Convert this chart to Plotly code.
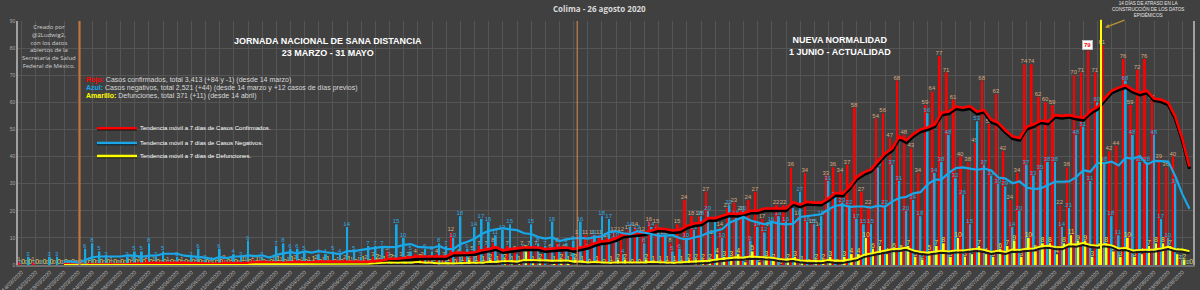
import pandas as pd
import plotly.graph_objects as go

fechas = pd.date_range("2020-03-14", periods=166).strftime("%d/%m/%Y").tolist()

confirmados = [
    1, 0, 1, 0, 0, 0, 0, 0, 0, 0,
    1, 0, 0, 1, 0, 0, 1, 1, 2, 1,
    0, 1, 0, 1, 0, 1, 0, 0, 1, 2,
    1, 0, 1, 2, 1, 0, 1, 1, 1, 2,
    1, 1, 2, 1, 0, 1, 2, 1, 1, 2,
    3, 2, 5, 2, 3, 3, 4, 3, 2, 4,
    3, 12, 4, 3, 5, 7, 7, 8, 4, 7,
    5, 7, 7, 7, 4, 6, 8, 6, 3, 11,
    11, 11, 11, 10, 12, 12, 13, 14, 12, 16,
    15, 11, 8, 15, 24, 18, 18, 27, 11, 14,
    21, 23, 20, 24, 27, 17, 14, 22, 22, 36,
    18, 34, 15, 14, 33, 36, 34, 37, 58, 27,
    22, 54, 56, 47, 68, 48, 43, 34, 59, 64,
    77, 71, 61, 40, 38, 45, 68, 52, 63, 42,
    24, 34, 74, 74, 62, 60, 59, 22, 36, 70,
    71, 79, 71, 81, 42, 44, 76, 59, 72, 76,
    61, 39, 36, 40, 2, 0,
]

negativos = [
    0, 3, 0, 0, 3, 3, 0, 0, 0, 6,
    8, 5, 3, 0, 0, 3, 5, 5, 8, 3,
    5, 0, 3, 0, 3, 6, 2, 1, 6, 0,
    4, 3, 9, 0, 3, 0, 7, 8, 6, 6,
    5, 0, 4, 4, 5, 4, 14, 5, 3, 7,
    7, 7, 3, 15, 10, 5, 0, 6, 5, 8,
    7, 10, 18, 6, 14, 17, 16, 11, 13, 15,
    4, 6, 15, 8, 7, 16, 6, 8, 9, 16,
    6, 11, 18, 17, 10, 4, 14, 13, 8, 14,
    12, 11, 5, 6, 10, 13, 18, 20, 16, 10,
    22, 18, 20, 9, 14, 12, 16, 18, 16, 21,
    27, 16, 15, 18, 31, 25, 23, 22, 17, 15,
    15, 36, 22, 37, 31, 20, 24, 18, 56, 34,
    38, 48, 32, 26, 15, 53, 37, 33, 30, 29,
    14, 20, 37, 33, 35, 38, 38, 14, 21, 48,
    51, 31, 60, 38, 18, 11, 68, 48, 38, 38,
    48, 17, 10, 30, 2, 0,
]

defunciones = [
    0, 0, 0, 0, 0, 0, 0, 0, 0, 0,
    0, 0, 0, 0, 0, 0, 0, 0, 0, 0,
    0, 0, 0, 0, 0, 0, 0, 0, 0, 0,
    0, 1, 0, 1, 0, 0, 1, 0, 1, 0,
    0, 1, 0, 1, 0, 0, 1, 0, 1, 0,
    2, 1, 2, 0, 1, 0, 2, 0, 1, 0,
    1, 0, 1, 2, 1, 1, 2, 1, 2, 1,
    1, 5, 1, 2, 0, 1, 2, 1, 2, 1,
    0, 1, 0, 1, 2, 2, 0, 0, 2, 1,
    1, 1, 1, 1, 2, 2, 2, 2, 4, 3,
    3, 4, 1, 5, 1, 3, 2, 0, 2, 3,
    1, 0, 2, 2, 3, 0, 3, 4, 4, 10,
    6, 7, 4, 6, 5, 7, 3, 2, 5, 7,
    8, 3, 10, 3, 4, 7, 4, 3, 6, 7,
    9, 3, 10, 5, 8, 8, 4, 8, 11, 9,
    9, 3, 6, 8, 5, 3, 10, 3, 4, 7,
    8, 8, 7, 4, 2, 0,
]

dia_recuadro = 151  # bar whose label is shown in a white box


def movil(v):
    s = pd.Series(v, dtype=float).rolling(7).mean()
    return [None if pd.isna(x) else float(x) for x in s]


tend_conf = movil(confirmados)
tend_neg = movil(negativos)
tend_def = movil(defunciones)

txt_conf = [str(v) for v in confirmados]
txt_conf[dia_recuadro] = ""

BG = "#404040"
GRID = "#555555"

fig = go.Figure()
fig.add_trace(go.Bar(x=fechas, y=confirmados, marker_color="#ff0000", marker_line_width=0,
                     text=txt_conf, textposition="outside", constraintext="none", cliponaxis=False,
                     textfont=dict(size=6, color="#d9a77e", family="Liberation Sans")))
fig.add_trace(go.Bar(x=fechas, y=negativos, marker_color="#17a9e6", marker_line_width=0,
                     text=[str(v) for v in negativos], textposition="outside", constraintext="none",
                     cliponaxis=False, textfont=dict(size=6, color="#2ea8e0", family="Liberation Sans")))
fig.add_trace(go.Bar(x=fechas, y=defunciones, marker_color="#ffff00", marker_line_width=0,
                     text=[str(v) for v in defunciones], textposition="outside", constraintext="none",
                     cliponaxis=False, textfont=dict(size=7, color="#e3d64a", family="Liberation Sans")))

# shadows (same data, drawn on a slightly shifted overlay axis)
fig.add_trace(go.Scatter(x=fechas, y=tend_conf, mode="lines", yaxis="y2",
                         line=dict(color="#000000", width=3.2), hoverinfo="skip"))
fig.add_trace(go.Scatter(x=fechas, y=tend_def, mode="lines", yaxis="y2",
                         line=dict(color="#1a1a1a", width=2), hoverinfo="skip"))
# trend lines
fig.add_trace(go.Scatter(x=fechas, y=tend_conf, mode="lines", yaxis="y3",
                         line=dict(color="#ff0000", width=2.6)))
fig.add_trace(go.Scatter(x=fechas, y=tend_neg, mode="lines", yaxis="y3",
                         line=dict(color="#19a7e8", width=2.2)))
fig.add_trace(go.Scatter(x=fechas, y=tend_def, mode="lines", yaxis="y3",
                         line=dict(color="#ffff00", width=1.8)))


def px(x):
    return (x - 18) / 1175.0


def py(y):
    return (265 - y) / 244.0


shapes = [
    dict(type="line", xref="x", yref="paper", x0=8.2, x1=8.2, y0=0, y1=1,
         line=dict(color="#c6743a", width=2)),
    dict(type="line", xref="x", yref="paper", x0=78.5, x1=78.5, y0=0, y1=1,
         line=dict(color="#e08d4f", width=1)),
    dict(type="line", xref="x", yref="paper", x0=152.5, x1=152.5, y0=0, y1=1.005,
         line=dict(color="#ffff00", width=2)),
]
for yy, col in [(128.3, "#ff0000"), (143, "#19a7e8"), (156, "#ffff00")]:
    shapes.append(dict(type="line", xref="paper", yref="paper", x0=px(97), x1=px(137),
                       y0=py(yy + 1.2), y1=py(yy + 1.2), line=dict(color="#111111", width=2)))
    shapes.append(dict(type="line", xref="paper", yref="paper", x0=px(97), x1=px(137),
                       y0=py(yy), y1=py(yy), line=dict(color=col, width=2.6)))


def nota(x, y, text, size, color, family="Liberation Sans", xanchor="center", align="center"):
    return dict(x=px(x), y=py(y), xref="paper", yref="paper", showarrow=False,
                xanchor=xanchor, yanchor="middle", align=align, text=text,
                font=dict(size=size, color=color, family=family))


ann = []
ann.append(nota(599, 8.3, "<b>Colima - 26 agosto 2020</b>", 8, "#d9d9d9", "Open Sans"))
ann.append(nota(49.3, 46.7,
                "Creado por<br>@2Ludwig2,<br>con los datos<br>abiertos de la<br>Secretaría de Salud<br>Federal de México.",
                6, "#d0d0d0", "Open Sans"))
ann.append(nota(328, 46.7, "<b>JORNADA NACIONAL DE SANA DISTANCIA<br>23 MARZO - 31 MAYO</b>", 9, "#ffffff"))
ann.append(nota(840, 45.7, "<b>NUEVA NORMALIDAD<br>1 JUNIO - ACTUALIDAD</b>", 9, "#ffffff"))
leyendas = [
    (80, "<b><span style='color:#ff0000'>Rojo:</span></b> Casos confirmados, total 3,413 (+84 y -1) (desde 14 marzo)"),
    (88, "<b><span style='color:#19a7e8'>Azul:</span></b> Casos negativos, total 2,521 (+44) (desde 14 marzo y +12 casos de días previos)"),
    (95.5, "<b><span style='color:#ffff00'>Amarillo:</span></b> Defunciones, total 371 (+11) (desde 14 abril)"),
]
for yy, t in leyendas:
    ann.append(nota(84, yy, t, 7, "#d8d8d8", xanchor="left", align="left"))
for yy, t in [(128.3, "Tendencia móvil a 7 días de Casos Confirmados."),
              (143, "Tendencia móvil a 7 días de Casos Negativos."),
              (156, "Tendencia móvil a 7 días de Defunciones.")]:
    ann.append(nota(137.5, yy, t, 6, "#ffffff", xanchor="left", align="left"))
ann.append(nota(1148, 9.3, "14 DÍAS DE ATRASO EN LA<br>CONSTRUCCIÓN DE LOS DATOS<br>EPIDÉMICOS", 4.6, "#e6e6e6"))
ann.append(dict(x=px(1105), y=py(27.5), xref="paper", yref="paper", showarrow=True, text="",
                ax=21, ay=-8, arrowcolor="#b8962e", arrowhead=2, arrowsize=0.7, arrowwidth=1.2))
ann.append(dict(x=fechas[dia_recuadro], y=confirmados[dia_recuadro], xref="x", yref="y",
                showarrow=False, yshift=6, xshift=-2.4, yanchor="middle", xanchor="center",
                text="<b>%d</b>" % confirmados[dia_recuadro],
                bgcolor="#ffffff", bordercolor="#bbbbbb", borderwidth=1, borderpad=1,
                font=dict(size=6, color="#ff0000", family="Liberation Sans")))

fig.update_layout(
    width=1200, height=290,
    margin=dict(l=18, r=7, t=21, b=25),
    paper_bgcolor=BG, plot_bgcolor=BG,
    showlegend=False,
    barmode="group", bargap=0.12, bargroupgap=0.1,
    shapes=shapes, annotations=ann,
    xaxis=dict(type="category", range=[-0.5, 165.5], tickvals=fechas[::2], ticktext=fechas[::2],
               tickangle=-45, tickfont=dict(size=5.5, color="#bdbdbd", family="Liberation Sans"),
               showgrid=True, gridcolor=GRID, gridwidth=1, showline=True, linecolor="#6e6e6e",
               linewidth=2, mirror=False, ticks="", automargin=False),
    yaxis=dict(range=[0, 90], dtick=10, tickfont=dict(size=5, color="#a8a8a8", family="Liberation Sans"),
               showgrid=True, gridcolor=GRID, gridwidth=1, zeroline=False, showline=True,
               linecolor="#a0a0a0", linewidth=1.5, mirror=True, ticks="", automargin=False),
    yaxis2=dict(range=[0.8, 90.8], overlaying="y", visible=False),
    yaxis3=dict(range=[0, 90], overlaying="y", visible=False),
)

fig.write_html("out.html")
